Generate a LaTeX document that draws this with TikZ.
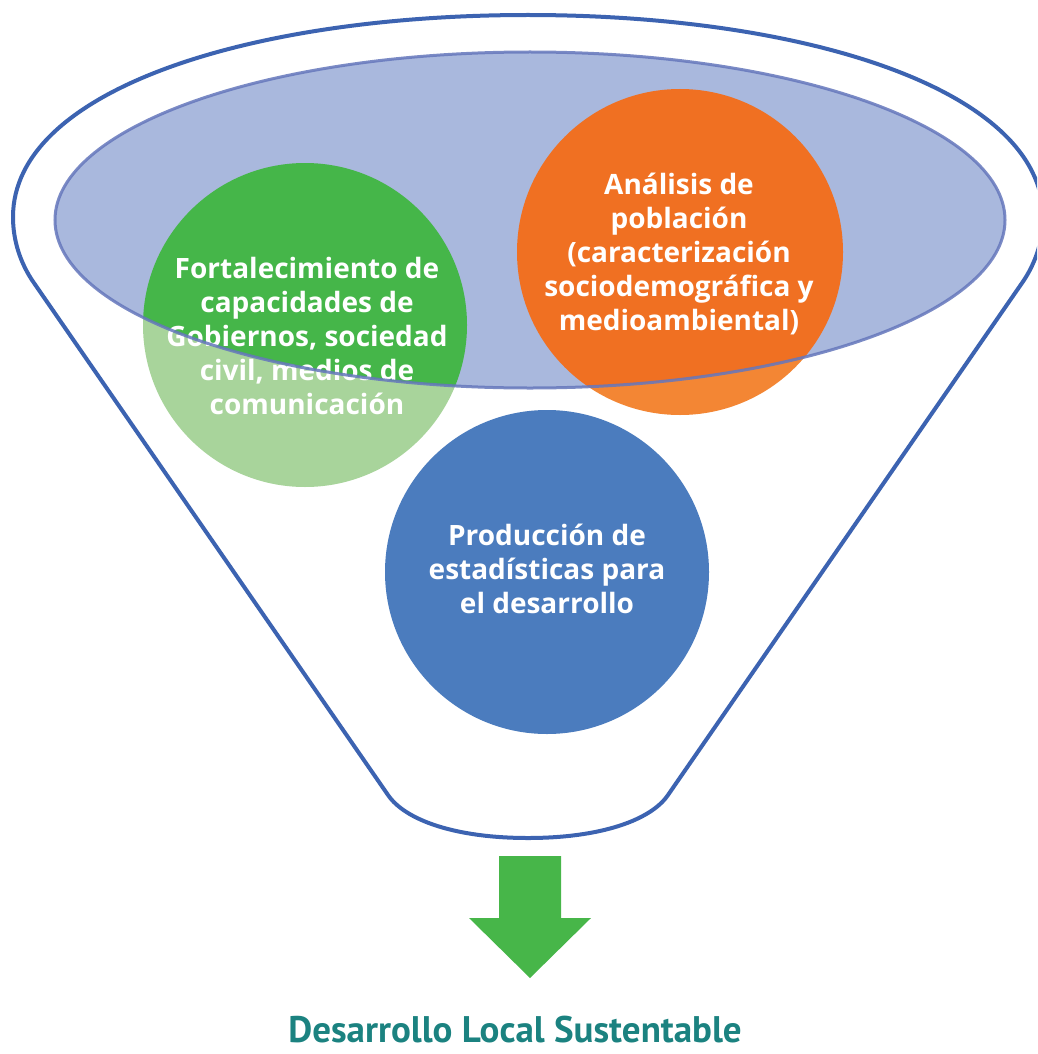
\documentclass[tikz,border=0pt]{standalone}
\usepackage{fontspec}
\setmainfont{PT Sans}
\newfontfamily\bubblefont{Open Sans}
\definecolor{funnelblue}{HTML}{3C63B1}
\definecolor{ellfill}{HTML}{A9B8DD}
\definecolor{ellline}{HTML}{6577BC}
\definecolor{grn}{HTML}{45B649}
\definecolor{grnpale}{HTML}{A8D49B}
\definecolor{org}{HTML}{F07022}
\definecolor{orgpale}{HTML}{F38634}
\definecolor{blu}{HTML}{4B7CBE}
\definecolor{arrowgreen}{HTML}{47B649}
\definecolor{titleteal}{HTML}{1B8280}
\begin{document}
\begin{tikzpicture}[x=1pt,y=-1pt,
  bubbletext/.style={font=\bubblefont\bfseries\fontsize{28}{34}\selectfont, text=white, align=center, inner sep=0pt},
  titletext/.style={font=\bfseries\fontsize{37}{40}\selectfont, text=titleteal, inner sep=0pt}]
\useasboundingbox (0,0) rectangle (1037,1054);
\clip (0,0) rectangle (1037,1054);
% funnel outline
\draw[funnelblue, line width=4pt, fill=white, line join=round]
 (528,15) .. controls (250,15) and (13,90) .. (13,217)
 .. controls (13,240) and (20,263) .. (34,283)
 -- (388,795)
 .. controls (405,820) and (455,838) .. (528,838)
 .. controls (601,838) and (651,820) .. (668,795)
 -- (1022,283)
 .. controls (1036,263) and (1043,240) .. (1043,217)
 .. controls (1043,90) and (806,15) .. (528,15) -- cycle;
% pale parts of the circles
\fill[grnpale] (305,325) circle[radius=162pt];
\fill[orgpale] (680,252) circle[radius=163pt];
% ellipse fill
\fill[ellfill] (530,220) ellipse[x radius=475pt, y radius=168pt];
% saturated parts inside the ellipse
\begin{scope}
  \clip (530,220) ellipse[x radius=475pt, y radius=168pt];
  \fill[grn] (305,325) circle[radius=162pt];
  \fill[org] (680,252) circle[radius=163pt];
\end{scope}
% blue circle
\fill[blu] (547,572) circle[radius=162pt];
% texts
\node[bubbletext] (fort) at (307,336) {Fortalecimiento de\\capacidades de\\Gobiernos, sociedad\\civil, medios de\\comunicación};
\node[bubbletext] (anal) at (679,254) {Análisis de\\población\\(caracterización\\sociodemográfica y\\medioambiental)};
\node[bubbletext] (prod) at (547,569) {Producción de\\estadísticas para\\el desarrollo};
% ellipse outline
\draw[ellline, line width=3pt, opacity=0.85] (530,220) ellipse[x radius=475pt, y radius=168pt];
% arrow
\fill[arrowgreen] (499,856) -- (561,856) -- (561,918) -- (591,918) -- (530,978) -- (469,918) -- (499,918) -- cycle;
% title
\node[titletext, anchor=base] (title) at (515,1042) {Desarrollo Local Sustentable};
\end{tikzpicture}
\end{document}
